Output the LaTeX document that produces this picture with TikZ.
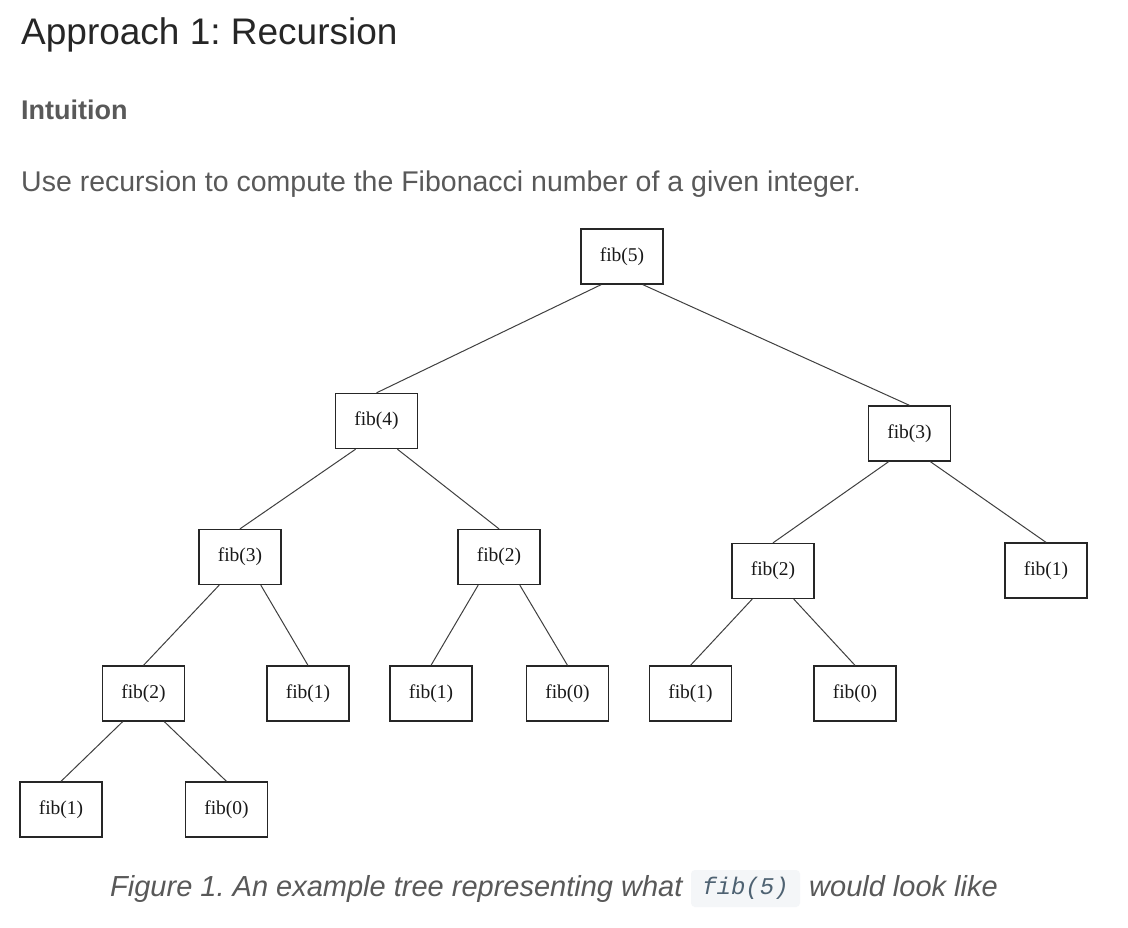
\documentclass[tikz,border=0pt]{standalone}
\usepackage{fontspec}
\setmainfont{Liberation Sans}
\newfontfamily\nodefont{Liberation Serif}
\newfontfamily\codefont{Liberation Mono}
\usetikzlibrary{calc}
\frenchspacing
\definecolor{titlecol}{HTML}{262626}
\definecolor{textgray}{HTML}{595959}
\definecolor{codebg}{HTML}{F4F6F8}
\definecolor{codefg}{HTML}{4E6272}
\definecolor{edgecol}{HTML}{404040}
\tikzset{
  fibbox/.style={draw=black!85, line width=1.3pt, minimum width=82pt, minimum height=55pt,
    inner sep=0pt, font=\nodefont\fontsize{19.5}{22}\selectfont, text=black!90},
  fibedge/.style={draw=edgecol, line width=1pt},
  txt/.style={anchor=base west, inner sep=0pt}
}
\newcommand\fibconn[3]{\draw[fibedge] ($(#1.south west)!#2!(#1.south east)$) -- (#3.north);}
\begin{document}
\begin{tikzpicture}[x=1pt,y=-1pt]
\useasboundingbox (0,0) rectangle (1128,928);
\fill[white] (0,0) rectangle (1128,928);
% texts
\node[txt, text=titlecol, font=\frenchspacing\fontsize{37}{44}\selectfont] (title) at (21,45) {Approach 1: Recursion};
\node[txt, text=textgray, font=\bfseries\fontsize{27}{32}\selectfont] (intu) at (21,120) {Intuition};
\node[txt, text=textgray, font=\fontsize{28.5}{34}\selectfont] (body) at (21,192) {Use recursion to compute the Fibonacci number of a given integer.};
% nodes
\node[fibbox] (f5) at (622,256.5) {fib(5)};
\node[fibbox] (f4) at (376.5,421) {fib(4)};
\node[fibbox] (f3r) at (909.5,433.5) {fib(3)};
\node[fibbox] (f3l) at (240,557) {fib(3)};
\node[fibbox] (f2m) at (499,557) {fib(2)};
\node[fibbox] (f2r) at (773,571) {fib(2)};
\node[fibbox] (f1r) at (1046,570.5) {fib(1)};
\node[fibbox] (f2a) at (143.5,693.5) {fib(2)};
\node[fibbox] (f1a) at (308,693.5) {fib(1)};
\node[fibbox] (f1b) at (431,693.5) {fib(1)};
\node[fibbox] (f0a) at (567.5,693.5) {fib(0)};
\node[fibbox] (f1c) at (690.5,693.5) {fib(1)};
\node[fibbox] (f0b) at (855,693.5) {fib(0)};
\node[fibbox] (f1d) at (61,809.5) {fib(1)};
\node[fibbox] (f0c) at (226.5,809.5) {fib(0)};
% edges
\fibconn{f5}{0.25}{f4}
\fibconn{f5}{0.75}{f3r}
\fibconn{f4}{0.25}{f3l}
\fibconn{f4}{0.75}{f2m}
\fibconn{f3r}{0.25}{f2r}
\fibconn{f3r}{0.75}{f1r}
\fibconn{f3l}{0.25}{f2a}
\fibconn{f3l}{0.75}{f1a}
\fibconn{f2m}{0.25}{f1b}
\fibconn{f2m}{0.75}{f0a}
\fibconn{f2r}{0.25}{f1c}
\fibconn{f2r}{0.75}{f0b}
\fibconn{f2a}{0.25}{f1d}
\fibconn{f2a}{0.75}{f0c}
% caption
\node[txt, text=textgray, font=\frenchspacing\itshape\fontsize{29}{34}\selectfont] (cap1) at (110,896) {Figure 1. An example tree representing what};
\node[fill=codebg, rounded corners=4pt, minimum width=109pt, minimum height=37pt, inner sep=0pt,
  text=codefg, font=\codefont\itshape\fontsize{24}{28}\selectfont] (code) at (745.5,888.5) {fib(5)};
\node[txt, text=textgray, font=\itshape\fontsize{29}{34}\selectfont] (cap2) at (809,896) {would look like};
\end{tikzpicture}
\end{document}
